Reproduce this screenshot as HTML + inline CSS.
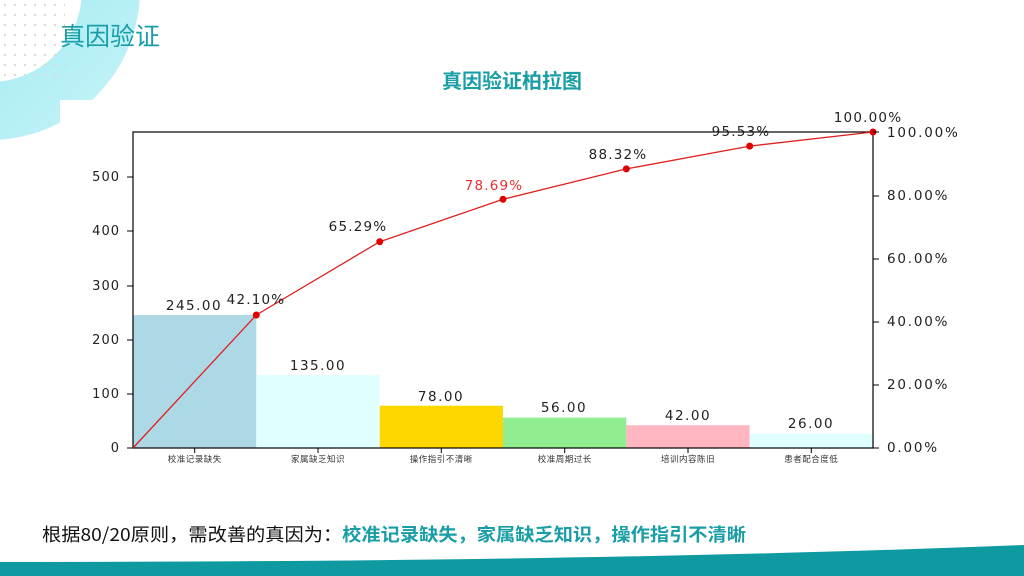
<!DOCTYPE html>
<html><head><meta charset="utf-8"><style>
body{margin:0;width:1024px;height:576px;overflow:hidden;background:#fff;font-family:"Liberation Sans","Noto Sans CJK SC",sans-serif;position:relative}
</style></head><body>
<svg width="1024" height="576" style="position:absolute;left:0;top:0" font-family="DejaVu Sans, Noto Sans CJK SC, sans-serif">
<defs>
<linearGradient id="g" x1="0" y1="0" x2="1" y2="1"><stop offset="0" stop-color="#7fe3ee"/><stop offset="1" stop-color="#c8f4f8"/></linearGradient>
<pattern id="dots" width="10" height="10" patternUnits="userSpaceOnUse"><circle cx="5" cy="5" r="1.2" fill="#e0d8d8"/></pattern>
</defs>
<circle cx="-10" cy="-10" r="150" fill="url(#g)"/>
<circle cx="-10" cy="-10" r="92" fill="#fff"/>
<rect x="60" y="100" width="120" height="60" fill="#fff"/>
<rect x="0" y="0" width="65" height="82" fill="url(#dots)"/>
<text x="60" y="45" font-size="25" fill="#1a9ea6" font-family="Noto Sans CJK SC, sans-serif">真因验证</text>
<text x="512" y="88" font-size="20" font-weight="bold" fill="#1a9ea6" text-anchor="middle" font-family="Noto Sans CJK SC, sans-serif">真因验证柏拉图</text>
<rect x="133" y="315" width="123.3" height="133" fill="#add8e6"/>
<rect x="256.3" y="375" width="123.3" height="73" fill="#e0ffff"/>
<rect x="379.7" y="405.7" width="123.3" height="42.3" fill="#ffd700"/>
<rect x="503" y="417.6" width="123.3" height="30.4" fill="#90ee90"/>
<rect x="626.3" y="425.2" width="123.3" height="22.8" fill="#ffb6c1"/>
<rect x="749.7" y="433.9" width="123.3" height="14.1" fill="#e0ffff"/>
<rect x="133" y="132" width="740" height="316" fill="none" stroke="#000" stroke-width="1.2"/>
<g font-size="13.5" fill="#222" text-anchor="middle" letter-spacing="1.5">
<text x="194" y="310">245.00</text><text x="318" y="370">135.00</text><text x="441" y="401">78.00</text>
<text x="564" y="412">56.00</text><text x="688" y="420">42.00</text><text x="811" y="428">26.00</text>
</g>
<polyline points="133,448 256.3,315 379.7,241.7 503,199.3 626.3,168.9 749.7,146.1 873,132" fill="none" stroke="#e02020" stroke-width="1.3"/>
<g fill="#e00000"><circle cx="256.3" cy="315" r="3.5"/><circle cx="379.7" cy="241.7" r="3.5"/><circle cx="503" cy="199.3" r="3.5"/><circle cx="626.3" cy="168.9" r="3.5"/><circle cx="749.7" cy="146.1" r="3.5"/><circle cx="873" cy="132" r="3.5"/></g>
<g font-size="13.5" fill="#222" text-anchor="middle" letter-spacing="1.2">
<text x="256" y="304">42.10%</text><text x="358" y="231">65.29%</text><text x="494" y="190" fill="#e83030">78.69%</text>
<text x="618" y="159">88.32%</text><text x="741" y="136">95.53%</text><text x="868" y="122">100.00%</text>
</g>
<g stroke="#000"><line x1="127" y1="448" x2="133" y2="448"/><line x1="127" y1="394" x2="133" y2="394"/><line x1="127" y1="340" x2="133" y2="340"/><line x1="127" y1="286" x2="133" y2="286"/><line x1="127" y1="231" x2="133" y2="231"/><line x1="127" y1="177" x2="133" y2="177"/></g>
<g font-size="13" fill="#222" text-anchor="end" letter-spacing="1">
<text x="120" y="452">0</text><text x="120" y="398">100</text><text x="120" y="344">200</text><text x="120" y="290">300</text><text x="120" y="235">400</text><text x="120" y="181">500</text>
</g>
<g stroke="#000"><line x1="873" y1="448" x2="879" y2="448"/><line x1="873" y1="385" x2="879" y2="385"/><line x1="873" y1="322" x2="879" y2="322"/><line x1="873" y1="259" x2="879" y2="259"/><line x1="873" y1="196" x2="879" y2="196"/><line x1="873" y1="132" x2="879" y2="132"/></g>
<g font-size="13.5" fill="#222" letter-spacing="1.8">
<text x="887" y="452">0.00%</text><text x="887" y="389">20.00%</text><text x="887" y="326">40.00%</text><text x="887" y="263">60.00%</text><text x="887" y="200">80.00%</text><text x="887" y="137">100.00%</text>
</g>
<g stroke="#000"><line x1="194.7" y1="448" x2="194.7" y2="453"/><line x1="318" y1="448" x2="318" y2="453"/><line x1="441.3" y1="448" x2="441.3" y2="453"/><line x1="564.7" y1="448" x2="564.7" y2="453"/><line x1="688" y1="448" x2="688" y2="453"/><line x1="811.3" y1="448" x2="811.3" y2="453"/></g>
<g font-size="8.5" fill="#333" text-anchor="middle" letter-spacing="0.5">
<text x="194.7" y="462">校准记录缺失</text><text x="318" y="462">家属缺乏知识</text><text x="441.3" y="462">操作指引不清晰</text>
<text x="564.7" y="462">校准周期过长</text><text x="688" y="462">培训内容陈旧</text><text x="811.3" y="462">患者配合度低</text>
</g>
<text x="42" y="541" font-size="18" fill="#111" font-family="Noto Sans CJK SC, sans-serif" textLength="704" lengthAdjust="spacingAndGlyphs">根据80/20原则，需改善的真因为：<tspan fill="#1a9ea6" font-weight="bold">校准记录缺失，家属缺乏知识，操作指引不清晰</tspan></text>
<path d="M0,562 Q600,562 1024,545 V576 H0 Z" fill="#0e9aa0"/>
</svg>
</body></html>
